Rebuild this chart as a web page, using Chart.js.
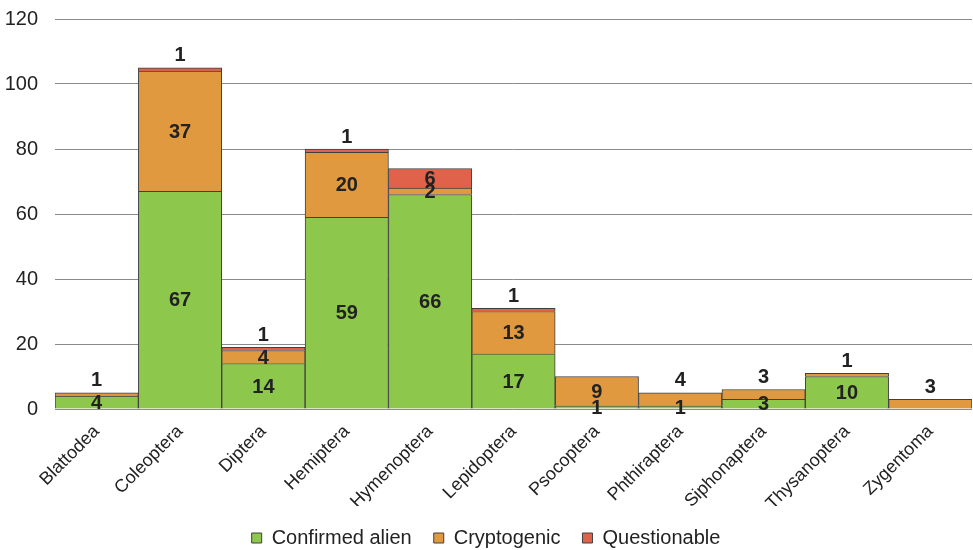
<!DOCTYPE html>
<html>
<head>
<meta charset="utf-8">
<script src="https://cdn.jsdelivr.net/npm/chart.js@4/dist/chart.umd.min.js"></script>
<style>
  html, body { margin: 0; padding: 0; background: #fff; }
  #wrap { width: 973px; height: 550px; }
</style>
</head>
<body>
<div id="wrap"><canvas id="grafico" width="973" height="550"></canvas></div>
<script>
const ordens = ['Blattodea', 'Coleoptera', 'Diptera', 'Hemiptera', 'Hymenoptera', 'Lepidoptera',
  'Psocoptera', 'Phthiraptera', 'Siphonaptera', 'Thysanoptera', 'Zygentoma'];
const confirmados = [4, 67, 14, 59, 66, 17, 1, 1, 3, 10, 0];
const criptogenicos = [1, 37, 4, 20, 2, 13, 9, 4, 3, 1, 3];
const questionaveis = [0, 1, 1, 1, 6, 1, 0, 0, 0, 0, 0];
const ticksY = [0, 20, 40, 60, 80, 100, 120];

// rotulos das barras (sem plugin externo)
const rotulos = {
  id: 'rotulos',
  afterDatasetsDraw(chart) {
    const ctx = chart.ctx;
    const sets = chart.data.datasets;
    ctx.save();
    ctx.font = 'bold 20px "Liberation Sans", Arial, sans-serif';
    ctx.fillStyle = '#222';
    ctx.textAlign = 'center';
    sets.forEach((ds, i) => {
      const meta = chart.getDatasetMeta(i);
      meta.data.forEach((bar, j) => {
        const v = ds.data[j];
        if (!v) return;
        let topo = true;
        for (let k = i + 1; k < sets.length; k++) {
          if (sets[k].data[j] > 0) topo = false;
        }
        const h = Math.abs(bar.base - bar.y);
        if (topo && h < 16) {
          ctx.textBaseline = 'bottom';
          ctx.fillText(v, bar.x, bar.y - 2);
        } else {
          ctx.textBaseline = 'middle';
          ctx.fillText(v, bar.x, (bar.y + bar.base) / 2 + 1);
        }
      });
    });
    ctx.restore();
  }
};

const fonte = '"Liberation Sans", Arial, sans-serif';

new Chart(document.getElementById('grafico'), {
  type: 'bar',
  data: {
    labels: ordens,
    datasets: [
      { label: 'Confirmed alien', data: confirmados, backgroundColor: '#8DC74B' },
      { label: 'Cryptogenic', data: criptogenicos, backgroundColor: '#E0993F' },
      { label: 'Questionable', data: questionaveis, backgroundColor: '#E0624A' }
    ].map(d => Object.assign(d, {
      borderColor: '#404040',
      borderWidth: 1,
      barPercentage: 1,
      categoryPercentage: 1
    }))
  },
  options: {
    responsive: false,
    animation: false,
    layout: { padding: { top: 19, right: 1, bottom: -8, left: 0 } },
    plugins: {
      tooltip: { enabled: false },
      legend: {
        position: 'bottom',
        labels: {
          font: { family: fonte, size: 20 },
          color: '#222',
          boxWidth: 10,
          boxHeight: 10,
          padding: 22,
          useBorderRadius: false
        }
      }
    },
    scales: {
      x: {
        stacked: true,
        grid: { display: false },
        border: { display: false },
        ticks: {
          font: { family: fonte, size: 18 },
          color: '#222',
          minRotation: 45,
          maxRotation: 45,
          padding: 4
        },
        afterFit(s) { s.height = 97; }
      },
      y: {
        stacked: true,
        min: 0,
        max: 120,
        afterBuildTicks(s) { s.ticks = ticksY.map(v => ({ value: v })); },
        grid: { color: '#8a8a8a', lineWidth: 1, drawTicks: false },
        border: { display: false },
        ticks: {
          font: { family: fonte, size: 20 },
          color: '#222',
          padding: 17
        },
        afterFit(s) {
          s.width = 55;
          s.paddingTop = 0;
          s.paddingBottom = 0;
        }
      }
    }
  },
  plugins: [rotulos]
});
</script>
</body>
</html>
